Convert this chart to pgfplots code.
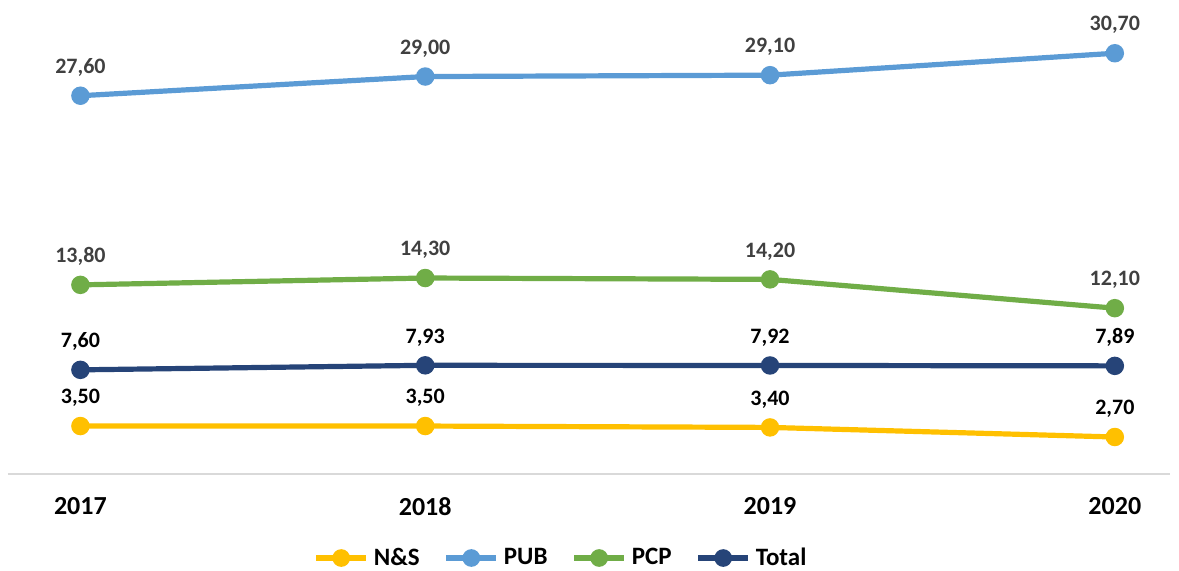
\documentclass[border=0pt]{standalone}
\usepackage{pgfplots}
\pgfplotsset{compat=1.18}
\usepackage{fontspec}
\setmainfont{Carlito}
\definecolor{cNS}{HTML}{FFC000}
\definecolor{cPUB}{HTML}{5B9BD5}
\definecolor{cPCP}{HTML}{70AD47}
\definecolor{cTot}{HTML}{264478}
\definecolor{lbl}{HTML}{404040}
\begin{document}
\begin{tikzpicture}
\useasboundingbox (-4pt,-48pt) rectangle (585.5pt,237pt);
\begin{axis}[
  at={(0,0)}, anchor=south west,
  scale only axis, width=581pt, height=233pt,
  xmin=-0.21, xmax=3.16, ymin=0, ymax=34,
  axis x line*=bottom, axis y line=none,
  x axis line style={draw=black!15, line width=0.8pt, -},
  xtick={0,1,2,3}, xticklabels={2017,2018,2019,2020},
  major tick length=0pt,
  xticklabel style={font=\bfseries\fontsize{13}{15}\selectfont, yshift=-8pt},
  every axis plot/.append style={line width=2.6pt, mark=*, mark size=3.3pt},
  nodes near coords={\pgfmathprintnumber[fixed,fixed zerofill,precision=2,use comma,assume math mode=true]{\pgfplotspointmeta}},
  every node near coord/.append style={font=\bfseries\fontsize{11}{13}\selectfont, yshift=5pt},
  legend style={at={(277pt,-42pt)}, anchor=center, draw=none, legend columns=4,
    font=\bfseries\fontsize{12.5}{14}\selectfont, column sep=0pt,
    /tikz/every odd column/.append style={column sep=0.5pt},
    /tikz/every even column/.append style={column sep=10pt}},
  legend image code/.code={
    \draw[#1, mark=none, line width=2.6pt] (0pt,0pt) -- (25pt,0pt);
    \fill[#1] (12.5pt,0pt) circle (3.1pt);
  },
]
\addplot[cNS, every node near coord/.append style={text=black}] coordinates {(0,3.5) (1,3.5) (2,3.4) (3,2.7)};
\addlegendentry{N\&S}
\addplot[cPUB, every node near coord/.append style={text=lbl}] coordinates {(0,27.6) (1,29.0) (2,29.1) (3,30.7)};
\addlegendentry{PUB}
\addplot[cPCP, every node near coord/.append style={text=lbl}] coordinates {(0,13.8) (1,14.3) (2,14.2) (3,12.1)};
\addlegendentry{PCP}
\addplot[cTot, every node near coord/.append style={text=black}] coordinates {(0,7.60) (1,7.93) (2,7.92) (3,7.89)};
\addlegendentry{Total}
\end{axis}
\end{tikzpicture}
\end{document}
